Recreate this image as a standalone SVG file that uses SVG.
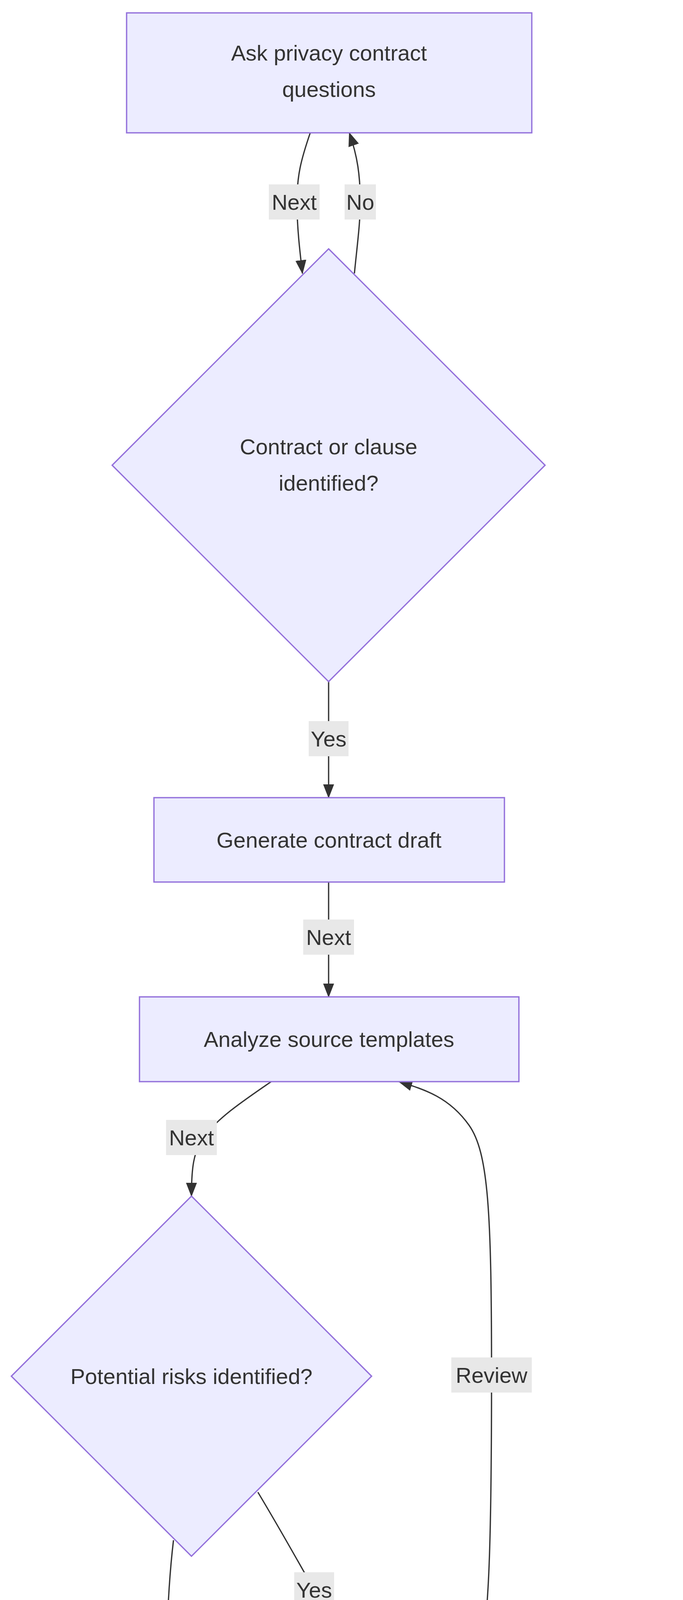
<svg xmlns="http://www.w3.org/2000/svg" width="1748" height="5148" viewBox="0 0 1748 5148">
<defs>
<style>
.n{fill:#ECECFF;stroke:#9370DB;stroke-width:3.3}
.t{font-family:"Liberation Sans",Arial,sans-serif;font-size:56px;fill:#333;text-anchor:middle;dominant-baseline:central}
.e{fill:none;stroke:#333;stroke-width:3.3}
.lb{fill:#e8e8e8}
</style>
<marker id="a" viewBox="0 0 10 10" refX="9" refY="5" markerWidth="10" markerHeight="10" markerUnits="userSpaceOnUse" orient="auto" overflow="visible">
<path d="M-30,-13 L0,5 L-30,23 Z" transform="translate(9,0)" fill="#333"/>
</marker>
<marker id="m" viewBox="0 0 36 36" refX="34" refY="18" markerWidth="36" markerHeight="36" markerUnits="userSpaceOnUse" orient="auto">
<path d="M0,4 L36,18 L0,32 Z" fill="#333"/>
</marker>
</defs>
<g id="edges">
<path class="e" marker-end="url(#m)" d="M794,340 C770,410 760,450 760,517 C760,580 767,640 774,700"/>
<path class="e" marker-end="url(#m)" d="M907,700 C915,620 922,570 922,517 C922,450 915,400 894,340"/>
<path class="e" marker-end="url(#m)" d="M841,1745 L841,2042"/>
<path class="e" marker-end="url(#m)" d="M841,2258 L841,2552"/>
<path class="e" marker-end="url(#m)" d="M694,2769 C620,2820 560,2860 520,2912 C495,2950 490,2990 490,3062"/>
<path class="e" marker-end="url(#m)" d="M1224,4280 C1250,4150 1258,4000 1258,3520 C1258,3100 1250,2950 1200,2880 C1150,2810 1090,2790 1021,2769"/>
<path class="e" marker-end="url(#m)" d="M660,3820 C720,3920 770,4010 804,4070 C850,4140 920,4210 1007,4280"/>
<path class="e" marker-end="url(#m)" d="M444,3943 C430,4060 424,4200 424,4430 C424,4600 440,4680 500,4760 C550,4820 600,4850 660,4887"/>
<path class="e" marker-end="url(#m)" d="M1191,4590 C1191,4680 1180,4720 1140,4760 C1090,4810 1040,4850 991,4887"/>
<g id="edge-labels">
<rect class="lb" x="688" y="472" width="130" height="90"/><text class="t" x="753" y="517">Next</text>
<rect class="lb" x="882" y="472" width="80" height="90"/><text class="t" x="922" y="517">No</text>
<rect class="lb" x="790" y="1846" width="102" height="90"/><text class="t" x="841" y="1891">Yes</text>
<rect class="lb" x="776" y="2354" width="130" height="90"/><text class="t" x="841" y="2399">Next</text>
<rect class="lb" x="425" y="2867" width="130" height="90"/><text class="t" x="490" y="2912">Next</text>
<rect class="lb" x="1155" y="3475" width="206" height="90"/><text class="t" x="1258" y="3520">Review</text>
<rect class="lb" x="753" y="4025" width="102" height="90"/><text class="t" x="804" y="4070">Yes</text>
<rect class="lb" x="384" y="4385" width="80" height="90"/><text class="t" x="424" y="4430">No</text>
<rect class="lb" x="1100" y="4689" width="182" height="90"/><text class="t" x="1191" y="4734">Ready</text>
</g>
</g>
<g id="ask"><rect class="n" x="324" y="33" width="1037" height="307"/><text class="t" x="842" y="135">Ask privacy contract</text><text class="t" x="842" y="228">questions</text></g>
<g id="identified"><polygon class="n" points="841,637 1395,1191 841,1745 287,1191"/><text class="t" x="841" y="1143">Contract or clause</text><text class="t" x="841" y="1236">identified?</text></g>
<g id="draft"><rect class="n" x="394" y="2042" width="897" height="216"/><text class="t" x="842" y="2150">Generate contract draft</text></g>
<g id="analyze"><rect class="n" x="357" y="2552" width="971" height="217"/><text class="t" x="842" y="2660">Analyze source templates</text></g>
<g id="risks"><polygon class="n" points="490,3062 951,3523 490,3984 29,3523"/><text class="t" x="490" y="3523">Potential risks identified?</text></g>
<g id="propose"><rect class="n" x="674" y="4280" width="1037" height="310"/><text class="t" x="1192" y="4385">Propose negotiation</text><text class="t" x="1192" y="4478">updates</text></g>
<g id="deliver"><rect class="n" x="387" y="4887" width="911" height="214"/><text class="t" x="842" y="4994">Deliver contract support</text></g>
</svg>
